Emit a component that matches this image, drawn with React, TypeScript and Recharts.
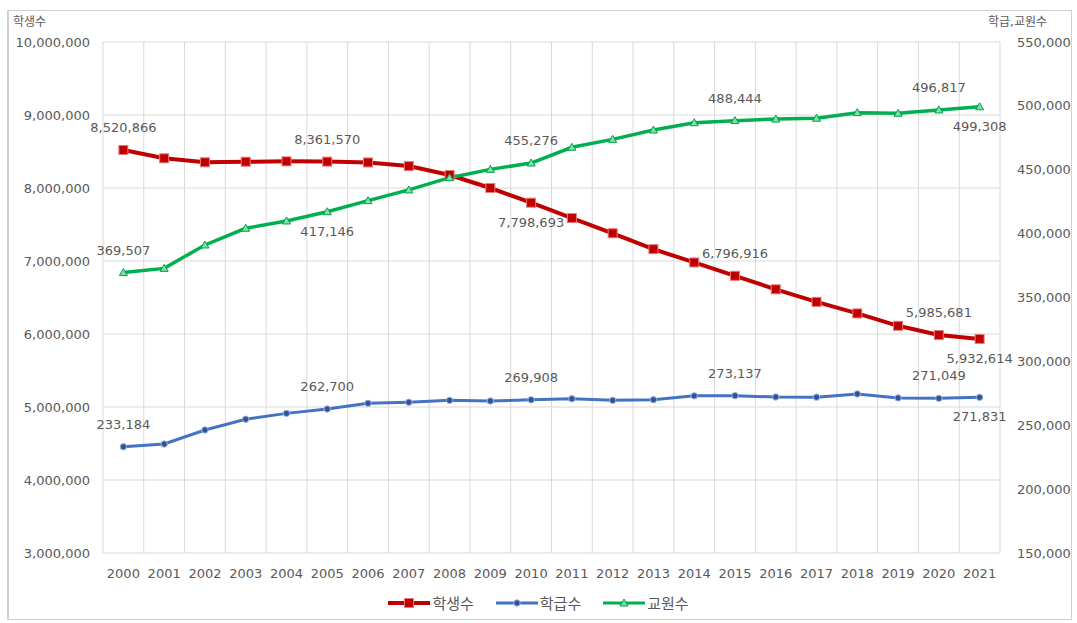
import { CartesianGrid, Line, LineChart, XAxis, YAxis } from "recharts";

const years = [
  "2000", "2001", "2002", "2003", "2004", "2005", "2006", "2007", "2008", "2009", "2010",
  "2011", "2012", "2013", "2014", "2015", "2016", "2017", "2018", "2019", "2020", "2021",
];

// 학생수 (left axis)
const students = [
  8520866, 8407000, 8352000, 8360000, 8365000, 8361570, 8350000, 8300000, 8178000, 8000000, 7798693,
  7588000, 7380000, 7162000, 6980000, 6796916, 6612000, 6440000, 6282000, 6112000, 5985681, 5932614,
];

// 학급수 (right axis)
const classes = [
  233184, 235300, 246300, 254700, 259300, 262700, 267200, 268000, 269500, 269000, 269908,
  270700, 269500, 270000, 273000, 273137, 272100, 272000, 274500, 271400, 271049, 271831,
];

// 교원수 (right axis)
const teachers = [
  369507, 372800, 391100, 404200, 409900, 417146, 425800, 434200, 443800, 450300, 455276,
  467600, 473800, 481100, 486800, 488444, 489700, 490300, 494700, 494200, 496817, 499308,
];

const leftTicks = [3000000, 4000000, 5000000, 6000000, 7000000, 8000000, 9000000, 10000000];
const rightTicks = [150000, 200000, 250000, 300000, 350000, 400000, 450000, 500000, 550000];

// which points carry a value label, and on which side
const studentLabels: Record<number, "up" | "down"> = { 0: "up", 5: "up", 10: "down", 15: "up", 20: "up", 21: "down" };
const classLabels: Record<number, "up" | "down"> = { 0: "up", 5: "up", 10: "up", 15: "up", 20: "up", 21: "down" };
const teacherLabels: Record<number, "up" | "down"> = { 0: "up", 5: "down", 10: "up", 15: "up", 20: "up", 21: "down" };

const RED = "#c00000";
const BLUE = "#4472c4";
const GREEN = "#00b050";
const TEXT = "#595959";
const GRID = "#d9d9d9";
const FONT = "'DejaVu Sans', 'Noto Sans CJK KR', sans-serif";

const data = years.map((year, i) => ({
  year,
  students: students[i],
  classes: classes[i],
  teachers: teachers[i],
}));

const fmt = (v: number) => v.toLocaleString("en-US");

function makeLabel(spots: Record<number, "up" | "down">) {
  return (p: any) => {
    const side = spots[p.index];
    if (!side) return null;
    return (
      <text
        key={`lbl-${p.index}`}
        x={p.x}
        y={side === "up" ? p.y - 18 : p.y + 24}
        textAnchor="middle"
        fill={TEXT}
        fontSize={13}
        fontFamily={FONT}
      >
        {fmt(p.value)}
      </text>
    );
  };
}

const squareDot = (p: any) => (
  <rect key={`sq-${p.index}`} x={p.cx - 4.5} y={p.cy - 4.5} width={9} height={9} fill={RED} stroke="#e87878" strokeWidth={1} />
);

const roundDot = (p: any) => (
  <circle key={`cd-${p.index}`} cx={p.cx} cy={p.cy} r={3.2} fill="#2f5597" stroke="#9db6e4" strokeWidth={1} />
);

const triDot = (p: any) => (
  <polygon
    key={`tr-${p.index}`}
    points={`${p.cx},${p.cy - 4} ${p.cx - 4},${p.cy + 3} ${p.cx + 4},${p.cy + 3}`}
    fill="#7ee0a6"
    stroke="#00a048"
    strokeWidth={1}
  />
);

function LegendItem({ color, label, marker }: { color: string; label: string; marker: "sq" | "ci" | "tr" }) {
  return (
    <div style={{ display: "flex", alignItems: "center", margin: "0 11px" }}>
      <svg width={42} height={12}>
        <line x1={0} y1={6} x2={42} y2={6} stroke={color} strokeWidth={marker === "sq" ? 4 : 3} />
        {marker === "sq" && <rect x={16.5} y={1.5} width={9} height={9} fill={RED} stroke="#e87878" />}
        {marker === "ci" && <circle cx={21} cy={6} r={3.2} fill="#2f5597" stroke="#9db6e4" />}
        {marker === "tr" && <polygon points="21,2 17,9 25,9" fill="#7ee0a6" stroke="#00a048" />}
      </svg>
      <span style={{ marginLeft: 2 }}>{label}</span>
    </div>
  );
}

export default function App() {
  return (
    <div
      style={{
        position: "absolute",
        left: 0,
        top: 0,
        width: 1077,
        height: 623,
        background: "#fff",
        fontFamily: FONT,
        color: TEXT,
      }}
    >
      <div
        style={{
          position: "absolute",
          left: 7,
          top: 10,
          width: 1065,
          height: 610,
          boxSizing: "border-box",
          border: "1px solid #d0d0d0",
          borderLeftWidth: 2,
        }}
      />
      <div style={{ position: "absolute", left: 13, top: 15, fontSize: 12, lineHeight: "15px" }}>학생수</div>
      <div style={{ position: "absolute", left: 988, top: 15, fontSize: 12, lineHeight: "15px" }}>학급,교원수</div>

      <LineChart
        width={1077}
        height={623}
        data={data}
        margin={{ top: 42, right: 0, bottom: 40, left: 0 }}
        style={{ position: "absolute", left: 0, top: 0 }}
      >
        <CartesianGrid
          yAxisId="left"
          stroke={GRID}
          verticalCoordinatesGenerator={({ offset }: any) => {
            const band = offset.width / years.length;
            return years.map((_, i) => offset.left + i * band).concat(offset.left + offset.width);
          }}
        />
        <XAxis
          dataKey="year"
          scale="band"
          axisLine={false}
          tickLine={false}
          tickMargin={10}
          height={30}
          interval={0}
          tick={{ fill: TEXT, fontSize: 13, fontFamily: FONT }}
        />
        <YAxis
          yAxisId="left"
          orientation="left"
          width={103}
          domain={[3000000, 10000000]}
          ticks={leftTicks}
          axisLine={false}
          tickLine={false}
          tickMargin={7}
          tickFormatter={fmt}
          tick={{ fill: TEXT, fontSize: 13, fontFamily: FONT }}
        />
        <YAxis
          yAxisId="right"
          orientation="right"
          width={77}
          domain={[150000, 550000]}
          ticks={rightTicks}
          axisLine={false}
          tickLine={false}
          tickMargin={11}
          tickFormatter={fmt}
          tick={{ fill: TEXT, fontSize: 13, fontFamily: FONT }}
        />
        <Line
          yAxisId="left"
          dataKey="students"
          stroke={RED}
          strokeWidth={4}
          dot={squareDot}
          label={makeLabel(studentLabels)}
          isAnimationActive={false}
        />
        <Line
          yAxisId="right"
          dataKey="classes"
          stroke={BLUE}
          strokeWidth={3}
          dot={roundDot}
          label={makeLabel(classLabels)}
          isAnimationActive={false}
        />
        <Line
          yAxisId="right"
          dataKey="teachers"
          stroke={GREEN}
          strokeWidth={3.5}
          dot={triDot}
          label={makeLabel(teacherLabels)}
          isAnimationActive={false}
        />
      </LineChart>

      <div
        style={{
          position: "absolute",
          left: 0,
          width: 1077,
          top: 592,
          display: "flex",
          justifyContent: "center",
          boxSizing: "border-box",
          fontSize: 15,
        }}
      >
        <LegendItem color={RED} label="학생수" marker="sq" />
        <LegendItem color={BLUE} label="학급수" marker="ci" />
        <LegendItem color={GREEN} label="교원수" marker="tr" />
      </div>
    </div>
  );
}
